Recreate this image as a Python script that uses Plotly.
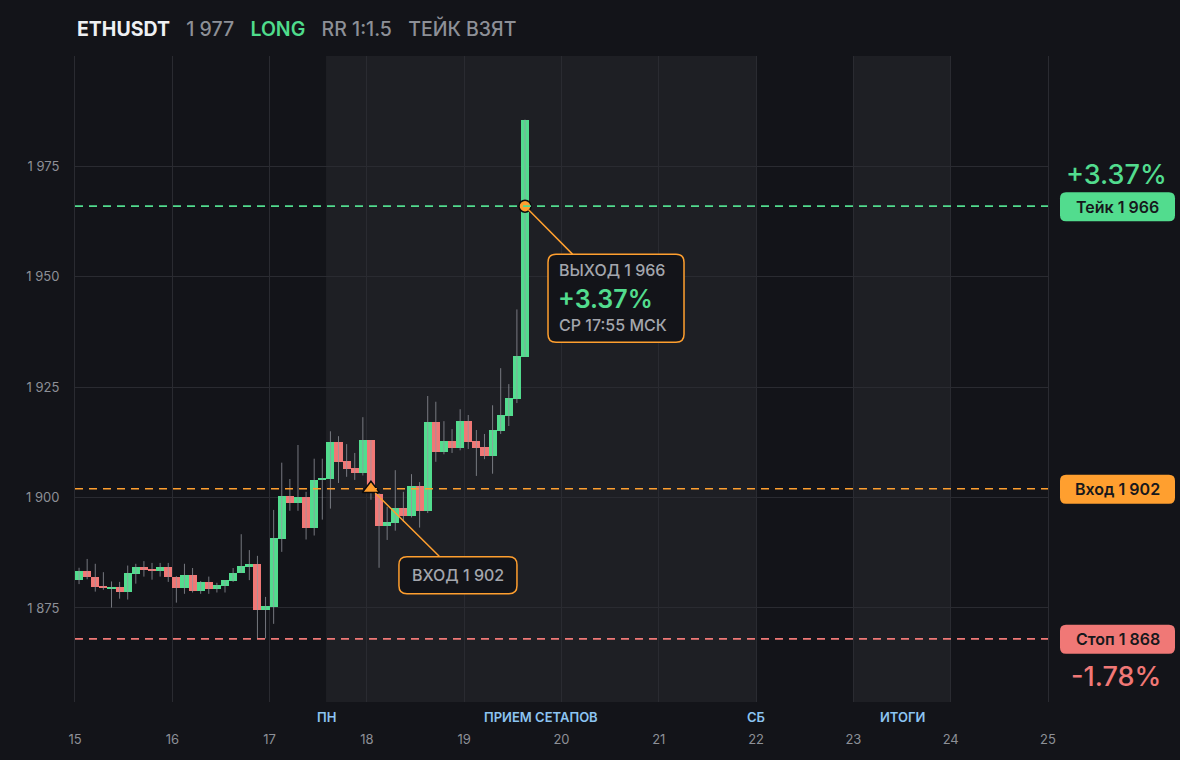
import plotly.graph_objects as go

# ---------------- data ----------------
day_start = 15.0
candle_hours = 2
opens  = [1881.3,1883.4,1882.0,1880.05,1879.4,1879.75,1878.5,1882.8,1884.3,1883.8,
          1883.4,1884.3,1882.0,1879.6,1882.5,1878.9,1880.9,1879.4,1880.05,1881.1,
          1882.9,1884.3,1885.0,1874.6,1875.3,1890.7,1900.3,1898.8,1900.1,1893.2,
          1903.9,1904.3,1912.6,1908.3,1906.7,1905.6,1913.0,1900.7,1893.6,1894.3,
          1897.7,1895.9,1902.6,1897.0,1917.1,1910.4,1912.8,1911.3,1917.3,1912.8,
          1911.4,1909.5,1915.1,1918.5,1922.4,1931.9]
closes = [1883.4,1881.9,1879.8,1879.6,1879.75,1878.5,1882.9,1884.3,1883.7,1883.4,
          1884.3,1882.0,1879.6,1882.5,1878.9,1880.9,1879.4,1880.3,1881.3,1882.9,
          1884.5,1885.0,1874.6,1875.5,1890.8,1900.3,1898.8,1900.1,1893.2,1904.0,
          1904.4,1912.6,1908.1,1906.5,1905.6,1913.0,1901.5,1893.6,1894.5,1897.7,
          1895.9,1902.6,1897.0,1917.1,1910.4,1912.8,1911.3,1917.3,1912.6,1911.3,
          1909.5,1915.3,1918.7,1922.5,1932.0,1985.6]
highs  = [1884.1,1886.1,1885.0,1883.1,1881.0,1880.9,1884.6,1885.0,1885.6,1885.2,
          1885.2,1885.2,1882.2,1885.0,1884.05,1881.1,1882.1,1880.7,1881.3,1884.05,
          1891.7,1888.1,1886.8,1877.5,1897.2,1907.9,1904.2,1911.9,1901.3,1908.8,
          1908.8,1915.0,1913.9,1912.1,1910.1,1918.2,1913.0,1901.0,1897.9,1906.2,
          1901.3,1905.3,1903.5,1923.0,1921.7,1917.3,1915.5,1920.0,1918.7,1915.3,
          1914.4,1920.9,1929.3,1925.7,1942.6,1985.6]
lows   = [1880.4,1881.5,1878.7,1879.1,1875.1,1877.1,1876.9,1880.5,1882.1,1881.4,
          1882.1,1880.9,1876.2,1878.2,1878.5,1878.2,1878.2,1878.5,1878.5,1880.9,
          1882.9,1881.3,1868.1,1868.1,1871.4,1887.7,1897.0,1897.0,1890.5,1891.4,
          1895.0,1897.5,1903.3,1904.7,1904.0,1905.0,1899.5,1884.1,1890.4,1892.5,
          1894.5,1895.5,1893.2,1896.5,1908.1,1909.8,1910.1,1910.7,1911.0,1904.9,
          1908.7,1905.4,1914.4,1916.2,1921.4,1931.9]

take_price, entry_price, stop_price = 1966, 1902, 1868
entry_idx, exit_idx = 36, 55
take_pct, stop_pct = "+3.37%", "-1.78%"

day_ticks = list(range(15, 26))
y_ticks = [1875, 1900, 1925, 1950, 1975]
y_tick_text = ["1 875", "1 900", "1 925", "1 950", "1 975"]

sessions = [(17.58, 22.0), (23.0, 24.0)]
session_labels = [(17.58, "ПН"), (19.79, "ПРИЕМ СЕТАПОВ"), (22.0, "СБ"), (23.5, "ИТОГИ")]

title_parts = [("ETHUSDT", "#eef0f3", 700), ("1 977", "#8d9097", 500),
               ("LONG", "#4fdc8c", 600), ("RR 1:1.5", "#8d9097", 500),
               ("ТЕЙК ВЗЯТ", "#8d9097", 500)]

# ---------------- style ----------------
BG = "#131419"
BAND = "#1e1f24"
GRID = "#2a2b31"
GREEN = "#52dc8e"
RED = "#f07876"
ORANGE = "#ff9f2f"
GRAY = "#8d9097"
FONT = "Inter"

step = candle_hours / 24.0
xs = [day_start + (i + 0.5) * step for i in range(len(opens))]

fig = go.Figure()

# wicks
wx, wy = [], []
for x, h, l in zip(xs, highs, lows):
    wx += [x, x, None]
    wy += [l, h, None]
fig.add_trace(go.Scatter(x=wx, y=wy, mode="lines",
                         line=dict(color="rgba(150,152,160,0.75)", width=1),
                         hoverinfo="skip", showlegend=False))

# bodies
base = [min(o, c) for o, c in zip(opens, closes)]
hgt = [max(abs(c - o), 0.35) for o, c in zip(opens, closes)]
cols = [GREEN if c >= o else RED for o, c in zip(opens, closes)]
fig.add_trace(go.Bar(x=xs, y=hgt, base=base, width=step,
                     marker=dict(color=cols, line=dict(width=0)),
                     showlegend=False, hoverinfo="skip"))

# entry / exit markers
fig.add_trace(go.Scatter(x=[xs[entry_idx]], y=[entry_price], mode="markers",
                         marker=dict(symbol="triangle-up", size=15, color=ORANGE,
                                     line=dict(color="#0b0b0d", width=1.5)),
                         showlegend=False, hoverinfo="skip"))
fig.add_trace(go.Scatter(x=[xs[exit_idx]], y=[take_price], mode="markers",
                         marker=dict(symbol="circle", size=12, color=ORANGE,
                                     line=dict(color="#0b0b0d", width=1.5)),
                         showlegend=False, hoverinfo="skip"))

shapes = []
for a, b in sessions:
    shapes.append(dict(type="rect", xref="x", yref="paper", x0=a, x1=b, y0=0, y1=1,
                       fillcolor=BAND, line=dict(width=0), layer="below"))

for price, col in [(take_price, GREEN), (entry_price, ORANGE), (stop_price, RED)]:
    shapes.append(dict(type="line", xref="paper", yref="y", x0=0, x1=1, y0=price, y1=price,
                       line=dict(color=col, width=1.6, dash="8px,6px"), layer="above"))


def rrect(x0, x1, y0, y1, r):
    # pixel rounded rectangle path (y up positive)
    return (f"M{x0+r},{y1} L{x1-r},{y1} Q{x1},{y1} {x1},{y1-r} L{x1},{y0+r} "
            f"Q{x1},{y0} {x1-r},{y0} L{x0+r},{y0} Q{x0},{y0} {x0},{y0+r} "
            f"L{x0},{y1-r} Q{x0},{y1} {x0+r},{y1} Z")


# right-side price boxes
for price, col in [(take_price, GREEN), (entry_price, ORANGE), (stop_price, RED)]:
    shapes.append(dict(type="path", xref="paper", yref="y", xsizemode="pixel",
                       ysizemode="pixel", xanchor=1, yanchor=price,
                       path=rrect(12, 127, -15, 14, 6), fillcolor=col,
                       line=dict(width=0), layer="above"))

# callout boxes
shapes.append(dict(type="path", xref="x", yref="y", xsizemode="pixel", ysizemode="pixel",
                   xanchor=xs[exit_idx], yanchor=take_price,
                   path=rrect(23, 159, -136, -48, 8), fillcolor=BG,
                   line=dict(color=ORANGE, width=1.5), layer="above"))
shapes.append(dict(type="path", xref="x", yref="y", xsizemode="pixel", ysizemode="pixel",
                   xanchor=xs[entry_idx], yanchor=entry_price,
                   path=rrect(28, 146, -105, -68, 8), fillcolor=BG,
                   line=dict(color=ORANGE, width=1.5), layer="above"))

ann = []
# title
title_html = "&nbsp;&nbsp;&#8201;&#8202;".join(
    f"<span style='color:{c};font-weight:{w}'>{t}</span>" for t, c, w in title_parts)
ann.append(dict(xref="paper", yref="paper", x=0, y=1, yshift=28, xanchor="left",
                yanchor="middle", text=title_html, showarrow=False,
                font=dict(family=FONT, size=19.5, color=GRAY)))

# session labels
for xv, txt in session_labels:
    ann.append(dict(xref="x", yref="paper", x=xv, y=0, yshift=-15, xanchor="center",
                    yanchor="middle", text=txt, showarrow=False,
                    font=dict(family=FONT, size=13, color="#8cc4f2", weight=600)))

# right side labels
ann.append(dict(xref="paper", yref="y", x=1, y=take_price, xshift=68, yshift=32,
                text=take_pct, showarrow=False, xanchor="center", yanchor="middle",
                font=dict(family=FONT, size=27, color=GREEN, weight=500)))
ann.append(dict(xref="paper", yref="y", x=1, y=stop_price, xshift=68, yshift=-38,
                text=stop_pct, showarrow=False, xanchor="center", yanchor="middle",
                font=dict(family=FONT, size=27, color=RED, weight=500)))
for price, lab in [(take_price, "Тейк 1 966"), (entry_price, "Вход 1 902"),
                   (stop_price, "Стоп 1 868")]:
    ann.append(dict(xref="paper", yref="y", x=1, y=price, xshift=69.5, yshift=-0.5,
                    text=lab, showarrow=False, xanchor="center", yanchor="middle",
                    font=dict(family=FONT, size=16, color="#17181c", weight=600)))

# callout arrows (invisible boxes sized like callouts)
ann.append(dict(xref="x", yref="y", x=xs[exit_idx], y=take_price, axref="pixel",
                ayref="pixel", ax=91, ay=92, text=" ", width=136, height=88,
                showarrow=True, arrowhead=0, arrowwidth=1.5, arrowcolor=ORANGE,
                standoff=5, borderpad=0, borderwidth=0))
ann.append(dict(xref="x", yref="y", x=xs[entry_idx], y=entry_price, axref="pixel",
                ayref="pixel", ax=87, ay=86, text=" ", width=118, height=37,
                showarrow=True, arrowhead=0, arrowwidth=1.5, arrowcolor=ORANGE,
                standoff=6, borderpad=0, borderwidth=0))

# callout texts
ann.append(dict(xref="x", yref="y", x=xs[exit_idx], y=take_price, xshift=32, yshift=-64,
                xanchor="left", yanchor="middle", text="ВЫХОД 1 966", showarrow=False,
                font=dict(family=FONT, size=16, color="#a3a6ad", weight=500)))
ann.append(dict(xref="x", yref="y", x=xs[exit_idx], y=take_price, xshift=31, yshift=-93,
                xanchor="left", yanchor="middle", text=take_pct, showarrow=False,
                font=dict(family=FONT, size=25, color=GREEN, weight=600)))
ann.append(dict(xref="x", yref="y", x=xs[exit_idx], y=take_price, xshift=32, yshift=-119,
                xanchor="left", yanchor="middle", text="СР 17:55 МСК", showarrow=False,
                font=dict(family=FONT, size=16, color="#a3a6ad", weight=500)))
ann.append(dict(xref="x", yref="y", x=xs[entry_idx], y=entry_price, xshift=87, yshift=-86,
                xanchor="center", yanchor="middle", text="ВХОД 1 902", showarrow=False,
                font=dict(family=FONT, size=16, color="#a3a6ad", weight=500)))

fig.update_layout(
    width=1180, height=760,
    paper_bgcolor=BG, plot_bgcolor=BG,
    margin=dict(l=75, r=132, t=56, b=58),
    bargap=0, showlegend=False,
    shapes=shapes, annotations=ann,
    font=dict(family=FONT, color=GRAY),
    xaxis=dict(range=[15, 25], tickvals=day_ticks, ticktext=[str(d) for d in day_ticks],
               showgrid=True, gridcolor=GRID, gridwidth=1, zeroline=False,
               showline=False, ticks="", ticklabelstandoff=28,
               tickfont=dict(family=FONT, size=13, color=GRAY)),
    yaxis=dict(range=[1853.7, 2000], tickvals=y_ticks, ticktext=y_tick_text,
               showgrid=True, gridcolor=GRID, gridwidth=1, zeroline=False,
               showline=True, mirror=True, linecolor=GRID, linewidth=1,
               ticks="", ticklabelstandoff=12,
               tickfont=dict(family=FONT, size=13, color=GRAY)),
)

fig.write_html("out.html", config={"displayModeBar": False},
               post_script="document.body.style.margin='0';document.body.style.background='#131419';")
